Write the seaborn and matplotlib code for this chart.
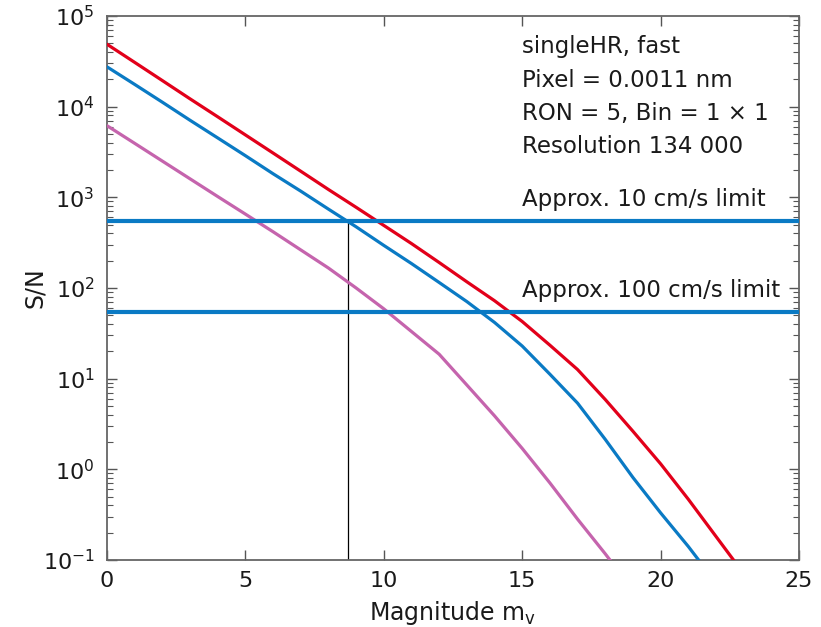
import numpy as np
import pandas as pd
import matplotlib
matplotlib.use("Agg")
import matplotlib.pyplot as plt
import seaborn as sns
from matplotlib.ticker import LogLocator, FixedLocator, NullFormatter

# Magnitude grid and S/N curves
magnitude = list(range(0, 24))
sn_red = [48800, 30800, 19400, 12200, 7730, 4880, 3080, 1940, 1220, 776,
          490, 309, 191, 117, 72.4, 42.7, 23.4, 12.6, 5.89, 2.63,
          1.15, 0.468, 0.182, 0.0708]
sn_blue = [27500, 17600, 11200, 7080, 4520, 2880, 1820, 1170, 741, 473,
           295, 186, 115, 70.8, 41.7, 22.9, 11.2, 5.37, 2.14, 0.813,
           0.331, 0.141, 0.0562, 0.0224]
sn_purple = [6170, 3940, 2510, 1600, 1020, 653, 417, 263, 166, 100,
             58.9, 33.1, 18.6, 8.51, 3.89, 1.70, 0.708, 0.282, 0.117, 0.0468,
             0.0187, 0.0075, 0.003, 0.0012]

# Radial-velocity precision limits
limit_10cms = 550
limit_100cms = 55
mag_at_10cms = 8.7

x_ticks = [0, 5, 10, 15, 20, 25]
info_lines = ["singleHR, fast", "Pixel = 0.0011 nm",
              "RON = 5, Bin = 1 \u00d7 1", "Resolution 134 000"]

col_red = "#e2001a"
col_blue = "#0a7ac4"
col_purple = "#c564ad"
text_col = "#1a1a1a"

sns.set_style("ticks")
plt.rcParams["font.family"] = ["DejaVu Sans"]
plt.rcParams["mathtext.fontset"] = "dejavusans"

df = pd.DataFrame({
    "mag": magnitude * 3,
    "sn": sn_red + sn_blue + sn_purple,
    "curve": ["red"] * len(magnitude) + ["blue"] * len(magnitude) + ["purple"] * len(magnitude),
})

fig = plt.figure(figsize=(8.21, 6.27), dpi=100)
ax = fig.add_axes([0.1303, 0.1069, 0.8429, 0.8676])

sns.lineplot(data=df, x="mag", y="sn", hue="curve",
             palette={"red": col_red, "blue": col_blue, "purple": col_purple},
             linewidth=2.3, legend=False, ax=ax, zorder=3)

ax.axhline(limit_10cms, color=col_blue, linewidth=3, zorder=4)
ax.axhline(limit_100cms, color=col_blue, linewidth=3, zorder=4)
ax.vlines(mag_at_10cms, 0.1, limit_10cms, color="black", linewidth=0.9, zorder=2)

ax.set_yscale("log")
ax.set_xlim(0, 25)
ax.set_ylim(0.1, 1e5)

ax.xaxis.set_major_locator(FixedLocator(x_ticks))
ax.set_xticklabels([str(t) for t in x_ticks])
ax.yaxis.set_major_locator(LogLocator(base=10, numticks=10))
ax.yaxis.set_minor_locator(LogLocator(base=10, subs=np.arange(2, 10), numticks=20))
ax.yaxis.set_minor_formatter(NullFormatter())

ax.tick_params(axis="both", which="both", direction="in", top=True, right=True,
               color="#555555", labelsize=16, labelcolor=text_col)
ax.tick_params(axis="both", which="major", length=7, width=1.0)
ax.tick_params(axis="x", which="major", pad=8)
ax.tick_params(axis="y", which="major", pad=9)
ax.tick_params(axis="y", which="minor", length=4, width=0.8)

for s in ax.spines.values():
    s.set_color("#666666")
    s.set_linewidth(1.3)

ax.set_xlabel("Magnitude m$_{\\mathregular{v}}$", fontsize=17, color=text_col, labelpad=6)
ax.set_ylabel("S/N", fontsize=17, color=text_col, labelpad=-3)

for i, line in enumerate(info_lines):
    ax.text(0.5997, 0.943 - i * 0.0607, line, transform=ax.transAxes,
            fontsize=16.5, color=text_col, va="center", ha="left")

ax.text(0.5997, limit_10cms * 1.70, "Approx. 10 cm/s limit",
        transform=ax.get_yaxis_transform(), fontsize=16.5, color=text_col,
        va="center", ha="left")
ax.text(0.5997, limit_100cms * 1.70, "Approx. 100 cm/s limit",
        transform=ax.get_yaxis_transform(), fontsize=16.5, color=text_col,
        va="center", ha="left")

fig.savefig("out.png", dpi=100)
